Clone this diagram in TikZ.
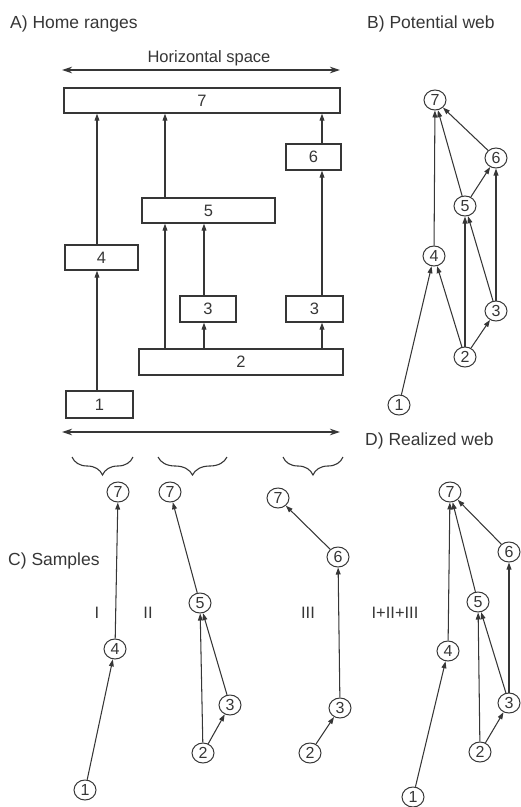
\documentclass[tikz,border=0pt]{standalone}
\usepackage{fontspec}
\setmainfont{Liberation Sans}
\usetikzlibrary{shapes.geometric,arrows.meta,decorations.pathreplacing}
\definecolor{ink}{HTML}{363636}
\begin{document}
\begin{tikzpicture}[x=1pt,y=-1pt,
  box/.style={draw=ink, line width=1.3pt, inner sep=0pt, text=ink, font=\fontsize{16.5}{18}\selectfont},
  web/.style={ellipse, draw=ink, line width=1pt, minimum width=22pt, minimum height=20pt, inner sep=0pt, text=ink, font=\fontsize{16}{17}\selectfont},
  arr/.style={draw=ink, line width=1.05pt, -{Triangle[length=7pt,width=4.8pt]}},
  dbl/.style={draw=ink, line width=1.2pt, {Stealth[length=10pt,width=6.5pt]}-{Stealth[length=10pt,width=6.5pt]}},
  title/.style={anchor=base west, inner sep=0pt, text=ink, font=\fontsize{17.5}{20}\selectfont},
  lab/.style={inner sep=0pt, text=ink, font=\fontsize{16.5}{18}\selectfont},
  bracestyle/.style={draw=ink, line width=1.1pt, decorate, decoration={brace, mirror, amplitude=18pt}}
]
\useasboundingbox (0,0) rectangle (521,807);

% ---------- A) Home ranges ----------
\node[title] (tA) at (10,28) {A) Home ranges};
\node[lab, anchor=base] (hs) at (209,62) {Horizontal space};
\coordinate (hl1) at (62,70);
\coordinate (hr1) at (340,70);
\draw[dbl] (hl1) -- (hr1);

\node[box, minimum width=276pt, minimum height=25pt] (b7) at (202,100.5) {7};
\node[box, minimum width=55pt, minimum height=26pt] (b6) at (313.5,157) {6};
\node[box, minimum width=133pt, minimum height=25pt] (b5) at (208.5,210.5) {5};
\node[box, minimum width=73pt, minimum height=25pt] (b4) at (101.5,257.5) {4};
\node[box, minimum width=56pt, minimum height=26pt] (b3a) at (208,309) {3};
\node[box, minimum width=57pt, minimum height=26pt] (b3b) at (314.5,309) {3};
\node[box, minimum width=204pt, minimum height=26pt] (b2) at (241,362) {2};
\node[box, minimum width=67pt, minimum height=27pt] (b1) at (99.5,404.5) {1};

\coordinate (xa) at (97,0);
\coordinate (xb) at (165,0);
\coordinate (xc) at (204,0);
\coordinate (xd) at (322,0);
\draw[arr] (b1.north -| xa) -- (b4.south -| xa);
\draw[arr] (b4.north -| xa) -- (b7.south -| xa);
\draw[arr] (b2.north -| xb) -- (b5.south -| xb);
\draw[arr] (b5.north -| xb) -- (b7.south -| xb);
\draw[arr] (b2.north -| xc) -- (b3a.south -| xc);
\draw[arr] (b3a.north -| xc) -- (b5.south -| xc);
\draw[arr] (b2.north -| xd) -- (b3b.south -| xd);
\draw[arr] (b3b.north -| xd) -- (b6.south -| xd);
\draw[arr] (b6.north -| xd) -- (b7.south -| xd);

\coordinate (hl2) at (62,432);
\coordinate (hr2) at (340,432);
\draw[dbl] (hl2) -- (hr2);

% braces
\coordinate (br1a) at (72,457); \coordinate (br1b) at (133,457);
\coordinate (br2a) at (158,457); \coordinate (br2b) at (227,457);
\coordinate (br3a) at (283,457); \coordinate (br3b) at (343,457);
\draw[bracestyle] (br1a) -- (br1b);
\draw[bracestyle] (br2a) -- (br2b);
\draw[bracestyle] (br3a) -- (br3b);

% ---------- B) Potential web ----------
\node[title] (tB) at (367,28) {B) Potential web};
\node[web] (p7) at (435,100) {7};
\node[web] (p6) at (496,158) {6};
\node[web] (p5) at (465,206) {5};
\node[web] (p4) at (434,256) {4};
\node[web] (p3) at (496,311) {3};
\node[web] (p2) at (465,357) {2};
\node[web] (p1) at (399,405) {1};
\draw[arr] (p4) -- (p7);
\draw[arr] (p5) -- (p7);
\draw[arr] (p6) -- (p7);
\draw[arr] (p5) -- (p6);
\draw[arr] (p3) -- (p6);
\draw[arr] (p2) -- (p5);
\draw[arr] (p3) -- (p5);
\draw[arr] (p2) -- (p4);
\draw[arr] (p1) -- (p4);
\draw[arr] (p2) -- (p3);

% ---------- C) Samples ----------
\node[title] (tC) at (8,565) {C) Samples};
\node[lab] (lI) at (97,613) {I};
\node[lab] (lII) at (148,613) {II};
\node[lab] (lIII) at (308,613) {III};
\node[lab] (lall) at (395,613) {I+II+III};

% sample I
\node[web] (s17) at (118,492) {7};
\node[web] (s14) at (115,649) {4};
\node[web] (s11) at (85,790) {1};
\draw[arr] (s11) -- (s14);
\draw[arr] (s14) -- (s17);

% sample II
\node[web] (s27) at (170,492) {7};
\node[web] (s25) at (200,603) {5};
\node[web] (s23) at (230,705) {3};
\node[web] (s22) at (203,753) {2};
\draw[arr] (s25) -- (s27);
\draw[arr] (s22) -- (s25);
\draw[arr] (s23) -- (s25);
\draw[arr] (s22) -- (s23);

% sample III
\node[web] (s37) at (278,498) {7};
\node[web] (s36) at (338,557) {6};
\node[web] (s33) at (340,708) {3};
\node[web] (s32) at (310,753) {2};
\draw[arr] (s36) -- (s37);
\draw[arr] (s33) -- (s36);
\draw[arr] (s32) -- (s33);

% ---------- D) Realized web ----------
\node[title] (tD) at (365,445) {D) Realized web};
\node[web] (r7) at (450,492) {7};
\node[web] (r6) at (509,552) {6};
\node[web] (r5) at (478,602) {5};
\node[web] (r4) at (448,651) {4};
\node[web] (r3) at (509,703) {3};
\node[web] (r2) at (480,752) {2};
\node[web] (r1) at (413,797) {1};
\draw[arr] (r4) -- (r7);
\draw[arr] (r5) -- (r7);
\draw[arr] (r6) -- (r7);
\draw[arr] (r3) -- (r6);
\draw[arr] (r2) -- (r5);
\draw[arr] (r3) -- (r5);
\draw[arr] (r1) -- (r4);
\draw[arr] (r2) -- (r3);
\end{tikzpicture}
\end{document}
